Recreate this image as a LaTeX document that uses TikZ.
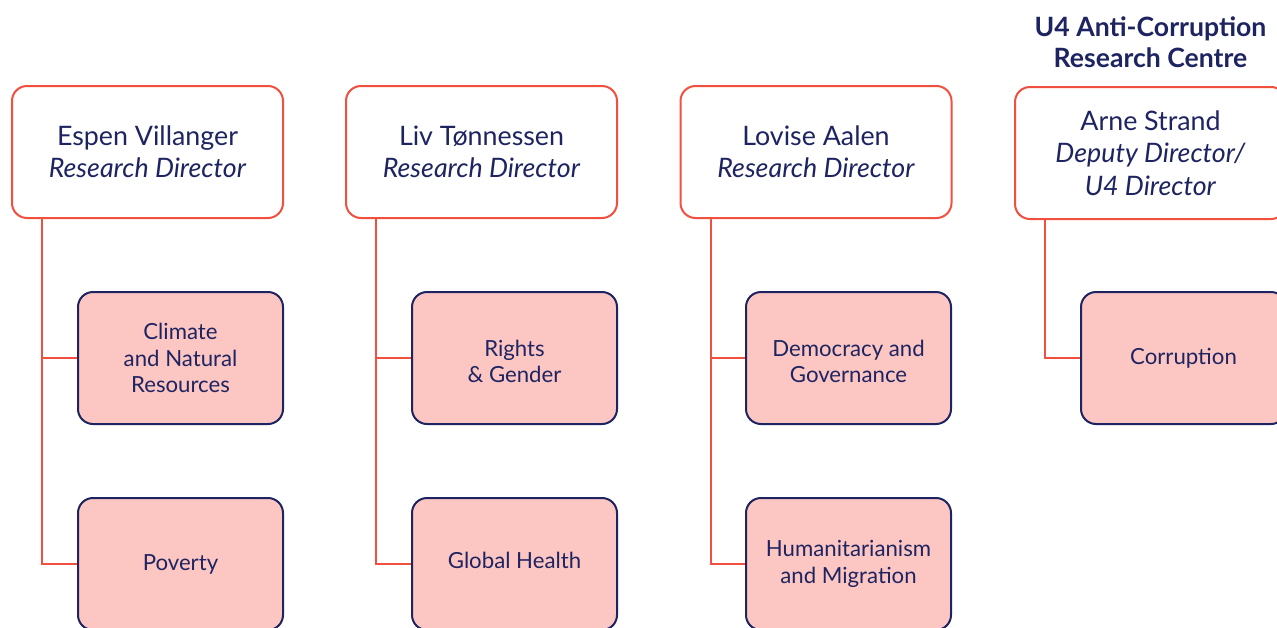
\documentclass[tikz,border=0pt]{standalone}
\usepackage{fontspec}
\setmainfont{Lato}
\usetikzlibrary{calc}
\definecolor{linered}{HTML}{F2503F}
\definecolor{navy}{HTML}{1E2461}
\definecolor{pinkfill}{HTML}{FCC6C2}
% struts that nudge a centred label a little lower or higher
\newcommand{\lowstrut}{\rule{0pt}{23pt}}
\newcommand{\highstrut}{\rule[-7pt]{0pt}{0pt}}
\begin{document}
\begin{tikzpicture}[x=1pt,y=-1pt,
  headbox/.style={draw=linered, line width=2pt, fill=white, rounded corners=15pt,
    minimum width=271pt, minimum height=132pt, inner sep=0pt, align=center,
    text=navy, font=\fontsize{26.8}{32.3}\selectfont},
  unitbox/.style={draw=navy, line width=2pt, fill=pinkfill, rounded corners=15pt,
    minimum width=205pt, minimum height=132pt, inner sep=0pt, align=center,
    text=navy, font=\fontsize{22.2}{26.8}\selectfont},
  conn/.style={draw=linered, line width=2pt},
  heading/.style={text=navy, align=center, font=\fontsize{26.6}{31}\selectfont\bfseries}]
\useasboundingbox (0,0) rectangle (1277,627);

% directors
\node[headbox] (d1) at (147.5,152) {Espen Villanger\\\textit{Research Director}};
\node[headbox] (d2) at (481.5,152) {Liv Tønnessen\\\textit{Research Director}};
\node[headbox] (d3) at (816,152) {Lovise Aalen\\\textit{Research Director}};
\node[headbox] (d4) at (1150.5,153) {Arne Strand\\\textit{Deputy Director/}\\\textit{U4 Director}};
\node[heading] (u4) at (1150.5,42) {U4 Anti-Corruption\\Research Centre};

% research groups
\node[unitbox] (g11) at (180.5,358) {Climate\\and Natural\\Resources};
\node[unitbox] (g12) at (180.5,564) {Poverty};
\node[unitbox] (g21) at (514.5,358) {\lowstrut Rights\\\& Gender};
\node[unitbox] (g22) at (514.5,564) {Global Health\highstrut};
\node[unitbox] (g31) at (848.5,358) {\lowstrut Democracy and\\Governance};
\node[unitbox] (g32) at (848.5,564) {Humanitarianism\\and Migration};
\node[unitbox] (g41) at (1183.5,358) {Corruption};

% connectors
\coordinate (j1) at ($(d1.south west)+(31,0)$);
\coordinate (j2) at ($(d2.south west)+(31,0)$);
\coordinate (j3) at ($(d3.south west)+(31,0)$);
\coordinate (j4) at ($(d4.south west)+(31,0)$);
\draw[conn] (j1) |- (g12.west);
\draw[conn] (j1 |- g11.west) -- (g11.west);
\draw[conn] (j2) |- (g22.west);
\draw[conn] (j2 |- g21.west) -- (g21.west);
\draw[conn] (j3) |- (g32.west);
\draw[conn] (j3 |- g31.west) -- (g31.west);
\draw[conn] (j4) |- (g41.west);
\end{tikzpicture}
\end{document}
